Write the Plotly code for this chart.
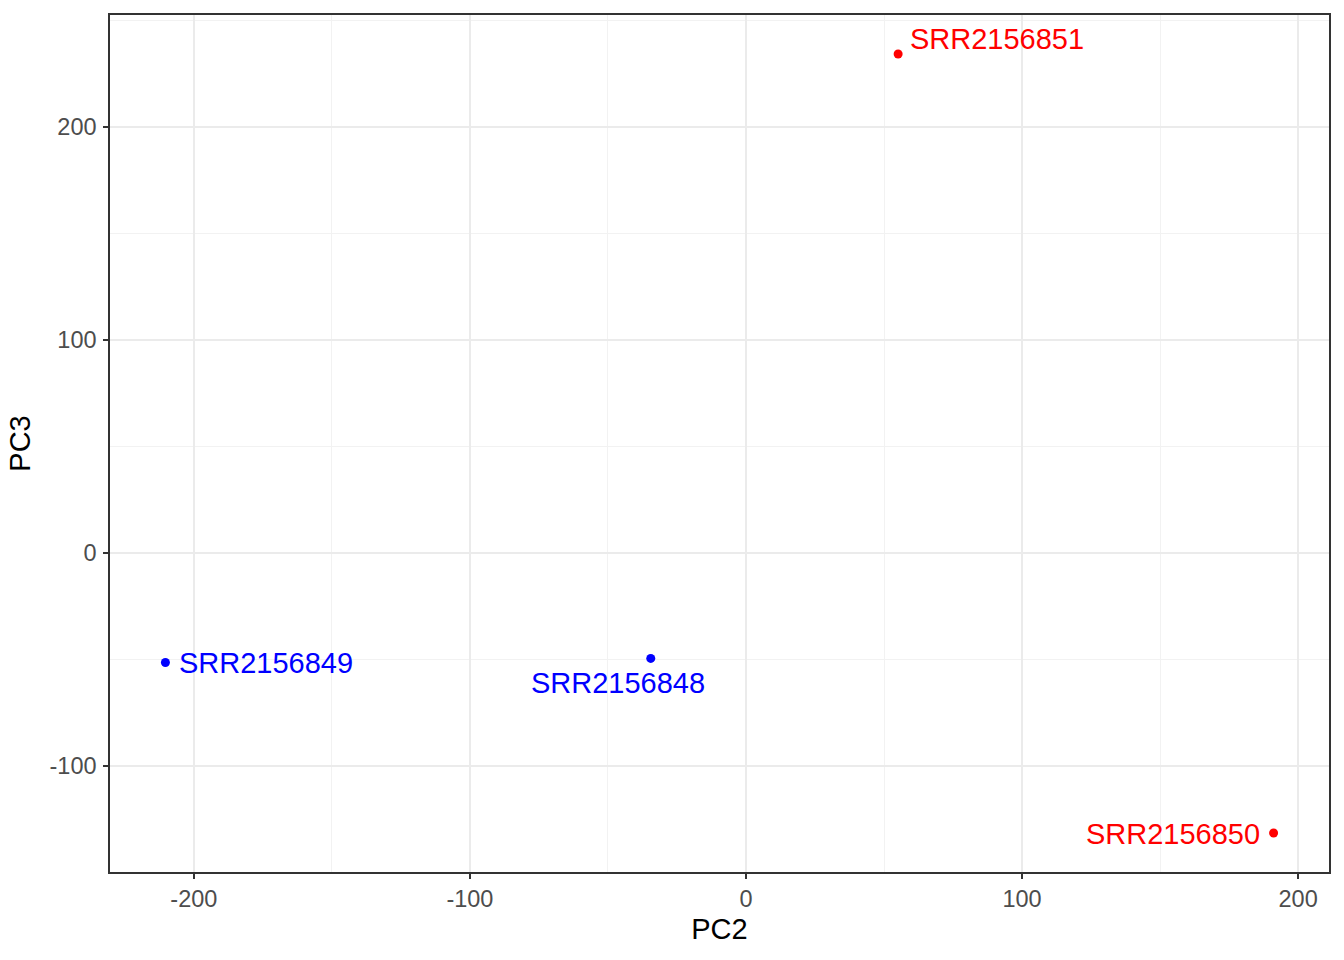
import plotly.graph_objects as go

samples = ["SRR2156851", "SRR2156849", "SRR2156848", "SRR2156850"]
pc2 = [55.1, -210.3, -34.5, 191.1]
pc3 = [234.2, -51.5, -49.6, -131.6]
colors = ["#FF0000", "#0000FF", "#0000FF", "#FF0000"]

x_ticks = [-200, -100, 0, 100, 200]
y_ticks = [-100, 0, 100, 200]

# label placement (style only): anchor, xshift, yshift in pixels
label_style = {
    "SRR2156851": ("left", 10, 15),
    "SRR2156849": ("left", 12, -1),
    "SRR2156848": ("center", -33, -25),
    "SRR2156850": ("right", -12, -1),
}

FONT = "Liberation Sans, Arial, sans-serif"

fig = go.Figure()
fig.add_trace(go.Scatter(
    x=pc2, y=pc3, mode="markers",
    marker=dict(color=colors, size=9, line=dict(width=0)),
    hoverinfo="text", text=samples, showlegend=False,
))

for s, xv, yv, c in zip(samples, pc2, pc3, colors):
    anchor, xs, ys = label_style[s]
    fig.add_annotation(
        x=xv, y=yv, xref="x", yref="y", text=s, showarrow=False,
        xanchor=anchor, yanchor="middle", xshift=xs, yshift=ys,
        font=dict(family=FONT, size=29, color=c),
    )

xr = [min(pc2) - 0.05 * (max(pc2) - min(pc2)), max(pc2) + 0.05 * (max(pc2) - min(pc2))]
yr = [min(pc3) - 0.05 * (max(pc3) - min(pc3)), max(pc3) + 0.05 * (max(pc3) - min(pc3))]

axis_common = dict(
    showline=True, mirror=True, linecolor="#333333", linewidth=1.5,
    ticks="outside", ticklen=5, tickwidth=1.5, tickcolor="#333333",
    showgrid=True, gridcolor="#EBEBEB", gridwidth=1.5,
    zeroline=False,
    tickfont=dict(family=FONT, size=23.5, color="#4D4D4D"),
    minor=dict(showgrid=True, gridcolor="#F2F2F2", gridwidth=0.8, dtick=50, tick0=0),
)

fig.update_xaxes(
    range=xr, tickvals=x_ticks, ticktext=[str(v) for v in x_ticks],
    title=dict(text="PC2", font=dict(family=FONT, size=29, color="#000000"), standoff=8),
    **axis_common,
)
fig.update_yaxes(
    range=yr, tickvals=y_ticks, ticktext=[str(v) for v in y_ticks],
    ticklabelstandoff=2,
    title=dict(text="PC3", font=dict(family=FONT, size=29, color="#000000"), standoff=10),
    **axis_common,
)

fig.update_layout(
    width=1344, height=960,
    margin=dict(l=110, r=15, t=15, b=88),
    plot_bgcolor="#FFFFFF", paper_bgcolor="#FFFFFF",
    font=dict(family=FONT),
)

fig.write_html("out.html", config={"displayModeBar": False},
               post_script="document.body.style.margin='0px';")
